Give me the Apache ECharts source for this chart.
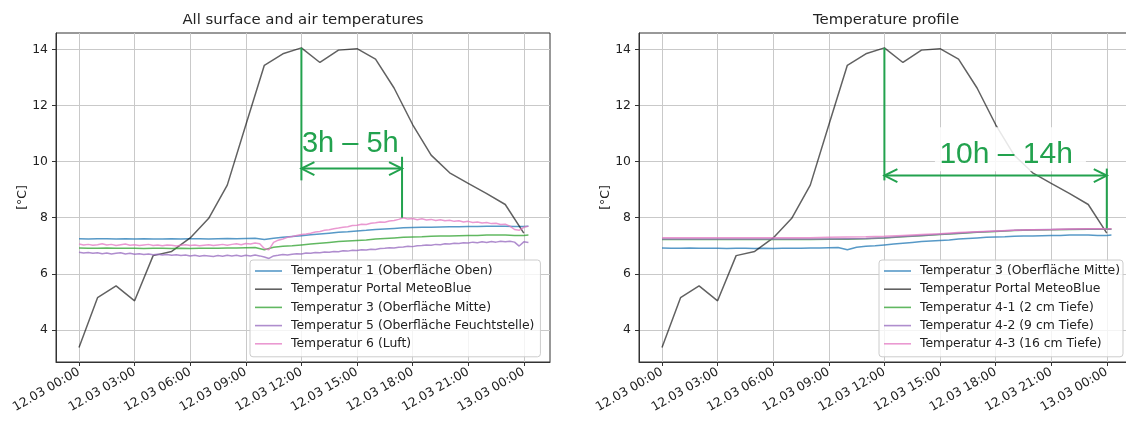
<!DOCTYPE html>
<html>
<head>
<meta charset="utf-8">
<script src="https://cdn.jsdelivr.net/npm/echarts@6/dist/echarts.min.js"></script>
<style>
  html, body { margin: 0; padding: 0; background: #ffffff; }
  #chart { width: 1126px; height: 421px; }
</style>
</head>
<body>
<div id="chart"></div>
<script>
// ---- sampling grids, hours after 12.03 00:00 ----
const quarterHours = Array.from({ length: 98 }, (_, i) => i * 0.25);          // 0 … 24.25
const halfHours = Array.from({ length: 49 }, (_, i) => i * 0.5).concat([24.25]);
const fullHours = Array.from({ length: 25 }, (_, i) => i).concat([24.25]);
const meteoHours = Array.from({ length: 25 }, (_, i) => i);                   // hourly model values

// ---- axis ticks ----
const tickHours = [0, 3, 6, 9, 12, 15, 18, 21, 24];
const tickLabels = ['12.03 00:00', '12.03 03:00', '12.03 06:00', '12.03 09:00', '12.03 12:00',
                    '12.03 15:00', '12.03 18:00', '12.03 21:00', '13.03 00:00'];
const yTicks = [4, 6, 8, 10, 12, 14];

// ---- measured temperatures [°C] ----
const meteoBlue = [3.38, 5.15, 5.57, 5.04, 6.65, 6.80, 7.28, 7.98, 9.16, 11.30, 13.43, 13.84, 14.05,
                   13.53, 13.97, 14.02, 13.65, 12.62, 11.32, 10.23, 9.60, 9.22, 8.86, 8.47, 7.45];

// Temperatur 1 (Oberfläche Oben), half-hourly
const temp1 = [7.25, 7.24, 7.25, 7.25, 7.24, 7.25, 7.24, 7.25, 7.24, 7.24,
               7.25, 7.24, 7.25, 7.25, 7.24, 7.25, 7.26, 7.25, 7.26, 7.27,
               7.22, 7.27, 7.30, 7.33, 7.36, 7.39, 7.42, 7.45, 7.48, 7.50,
               7.53, 7.55, 7.58, 7.60, 7.62, 7.64, 7.65, 7.66, 7.66, 7.67,
               7.68, 7.68, 7.69, 7.69, 7.70, 7.70, 7.70, 7.69, 7.69, 7.70];

// Temperatur 3 (Oberfläche Mitte), half-hourly
const temp3 = [6.92, 6.91, 6.91, 6.92, 6.91, 6.91, 6.91, 6.90, 6.91, 6.91,
               6.90, 6.91, 6.90, 6.91, 6.91, 6.91, 6.92, 6.92, 6.93, 6.94,
               6.86, 6.95, 6.98, 7.00, 7.03, 7.06, 7.09, 7.12, 7.15, 7.17,
               7.19, 7.21, 7.24, 7.26, 7.28, 7.30, 7.31, 7.32, 7.34, 7.35,
               7.35, 7.36, 7.37, 7.37, 7.38, 7.38, 7.38, 7.37, 7.37, 7.38];

// Temperatur 5 (Oberfläche Feuchtstelle), quarter-hourly
const temp5 = [6.77, 6.74, 6.76, 6.73, 6.75, 6.72, 6.74, 6.71, 6.73, 6.75,
               6.71, 6.73, 6.70, 6.72, 6.69, 6.71, 6.68, 6.70, 6.67, 6.69,
               6.66, 6.68, 6.65, 6.67, 6.64, 6.66, 6.63, 6.65, 6.64, 6.62,
               6.65, 6.63, 6.66, 6.64, 6.66, 6.63, 6.66, 6.64, 6.67, 6.64,
               6.60, 6.55, 6.64, 6.66, 6.69, 6.67, 6.70, 6.72, 6.71, 6.74,
               6.73, 6.76, 6.75, 6.78, 6.77, 6.80, 6.79, 6.82, 6.81, 6.84,
               6.83, 6.86, 6.85, 6.88, 6.87, 6.90, 6.91, 6.93, 6.92, 6.95,
               6.96, 6.98, 6.97, 7.00, 7.01, 7.03, 7.02, 7.05, 7.04, 7.07,
               7.06, 7.09, 7.08, 7.11, 7.10, 7.13, 7.11, 7.14, 7.12, 7.15,
               7.13, 7.16, 7.14, 7.16, 7.13, 6.99, 7.14, 7.12];

// Temperatur 6 (Luft), quarter-hourly
const temp6 = [7.06, 7.03, 7.05, 7.02, 7.04, 7.07, 7.03, 7.05, 7.01, 7.04,
               7.06, 7.02, 7.04, 7.01, 7.03, 7.05, 7.01, 7.03, 7.00, 7.03,
               7.02, 6.99, 7.02, 7.04, 7.01, 7.03, 7.00, 7.02, 7.04, 7.01,
               7.03, 7.05, 7.02, 7.05, 7.07, 7.04, 7.08, 7.06, 7.10, 7.07,
               6.90, 6.86, 7.12, 7.20, 7.24, 7.30, 7.33, 7.37, 7.40, 7.42,
               7.45, 7.49, 7.51, 7.55, 7.57, 7.61, 7.63, 7.66, 7.68, 7.72,
               7.73, 7.77, 7.76, 7.80, 7.82, 7.85, 7.84, 7.88, 7.90, 7.94,
               8.00, 7.95, 7.97, 7.93, 7.96, 7.92, 7.94, 7.90, 7.93, 7.89,
               7.91, 7.87, 7.89, 7.85, 7.87, 7.83, 7.85, 7.81, 7.83, 7.79,
               7.80, 7.76, 7.77, 7.70, 7.58, 7.55, 7.66, 7.70];

// Soil depth sensors, hourly
const temp41 = [7.22, 7.22, 7.22, 7.22, 7.22, 7.22, 7.22, 7.22, 7.22, 7.23, 7.23, 7.25, 7.28,
                7.32, 7.36, 7.40, 7.44, 7.48, 7.51, 7.54, 7.56, 7.57, 7.58, 7.59, 7.59, 7.59];
const temp42 = [7.24, 7.24, 7.24, 7.24, 7.24, 7.24, 7.24, 7.24, 7.24, 7.24, 7.25, 7.26, 7.29,
                7.33, 7.37, 7.41, 7.45, 7.49, 7.52, 7.55, 7.57, 7.58, 7.59, 7.60, 7.60, 7.60];
const temp43 = [7.29, 7.29, 7.29, 7.29, 7.29, 7.29, 7.29, 7.29, 7.29, 7.30, 7.31, 7.32, 7.34,
                7.37, 7.40, 7.43, 7.47, 7.50, 7.53, 7.55, 7.57, 7.58, 7.60, 7.61, 7.61, 7.61];

// ---- legend labels ----
const leftLabels = ['Temperatur 1 (Oberfläche Oben)', 'Temperatur Portal MeteoBlue',
                    'Temperatur 3 (Oberfläche Mitte)', 'Temperatur 5 (Oberfläche Feuchtstelle)',
                    'Temperatur 6 (Luft)'];
const rightLabels = ['Temperatur 3 (Oberfläche Mitte)', 'Temperatur Portal MeteoBlue',
                     'Temperatur 4-1 (2 cm Tiefe)', 'Temperatur 4-2 (9 cm Tiefe)',
                     'Temperatur 4-3 (16 cm Tiefe)'];

// ---- span annotations (data coordinates) ----
const leftSpan = { from: 12, to: 17.43, arrowAt: 9.75, fromTop: 14.05, fromBottom: 9.33,
                   toTop: 10.17, toBottom: 8.0, text: '3h – 5h', textAt: [12.03, 10.63], box: false, size: 29 };
const rightSpan = { from: 12, to: 24, arrowAt: 9.50, fromTop: 14.05, fromBottom: 9.33,
                    toTop: 9.75, toBottom: 7.62, text: '10h – 14h', textAt: [14.97, 10.24], box: true, size: 30 };

// ---- styling ----
const FONT = "'DejaVu Sans', sans-serif";
const INK = '#222222';
const SPINE = '#333333';
const GRID = '#c9c9c9';
const ANN_GREEN = '#22a24e';
const C = { blue: '#1f77b4', grey: '#000000', green: '#2ca02c', purple: '#9467bd', pink: '#e377c2' };

const X_MIN = -1.241, X_MAX = 25.414, Y_MIN = 2.86, Y_MAX = 14.58;

function grid(left) {
  return { left: left, top: 33, width: 494, height: 329, show: true, borderColor: SPINE,
           borderWidth: 1, backgroundColor: 'transparent', containLabel: false, outerBoundsMode: 'none' };
}

function xAxis(idx) {
  return {
    type: 'value', gridIndex: idx, min: X_MIN, max: X_MAX,
    axisLine: { show: true, onZero: false, lineStyle: { color: SPINE, width: 1 } },
    axisTick: { show: true, inside: false, length: 4, customValues: tickHours, lineStyle: { color: SPINE } },
    axisLabel: { customValues: tickHours, rotate: 30, margin: 9, color: INK, fontFamily: FONT, fontSize: 12.4,
                 formatter: v => { const i = tickHours.indexOf(v); return i < 0 ? '' : tickLabels[i]; } },
    splitLine: { show: true, lineStyle: { color: GRID, width: 1 } }
  };
}

function yAxis(idx) {
  return {
    type: 'value', gridIndex: idx, min: Y_MIN, max: Y_MAX,
    name: '[°C]', nameLocation: 'middle', nameGap: 26, nameRotate: 90,
    nameTextStyle: { color: INK, fontFamily: FONT, fontSize: 12.4 },
    axisLine: { show: true, onZero: false, lineStyle: { color: SPINE, width: 1 } },
    axisTick: { show: true, inside: false, length: 4, customValues: yTicks, lineStyle: { color: SPINE } },
    axisLabel: { customValues: yTicks, margin: 8, color: INK, fontFamily: FONT, fontSize: 12.4 },
    splitLine: { show: true, lineStyle: { color: GRID, width: 1 } }
  };
}

function line(key, idx, hours, values, color, opacity) {
  return {
    type: 'line', name: key, xAxisIndex: idx, yAxisIndex: idx, silent: true,
    data: hours.map((h, i) => [h, values[i]]),
    symbol: 'none', smooth: false,
    lineStyle: { color: color, width: 1.5, opacity: opacity },
    itemStyle: { color: color, opacity: opacity }
  };
}

function legend(left, keys, labels, padRight) {
  return {
    orient: 'vertical', left: left, top: 260, selectedMode: false,
    data: keys, icon: 'rect',
    itemWidth: 27, itemHeight: 1.6, itemGap: 4.2,
    padding: [4, padRight, 6, 5],
    backgroundColor: 'rgba(255,255,255,0.8)', borderColor: '#cccccc', borderWidth: 1, borderRadius: 3,
    textStyle: { color: INK, fontFamily: FONT, fontSize: 12.4, lineHeight: 14, padding: [0, 0, 0, 4] },
    formatter: name => labels[keys.indexOf(name)]
  };
}

function spanMarker(span, idx) {
  return {
    type: 'custom', xAxisIndex: idx, yAxisIndex: idx, silent: true, clip: false, z: 5,
    data: [[span.from, span.arrowAt]],
    renderItem: (params, api) => {
      const fx = api.coord([span.from, span.fromTop])[0];
      const fTop = api.coord([span.from, span.fromTop])[1];
      const fBot = api.coord([span.from, span.fromBottom])[1];
      const tx = api.coord([span.to, span.toTop])[0];
      const tTop = api.coord([span.to, span.toTop])[1];
      const tBot = api.coord([span.to, span.toBottom])[1];
      const ay = api.coord([span.from, span.arrowAt])[1];
      const lp = api.coord(span.textAt);
      const st = { stroke: ANN_GREEN, lineWidth: 2, fill: null };
      const kids = [];
      if (span.box) {
        kids.push({ type: 'rect', shape: { x: lp[0] - 4.5, y: lp[1] - 27.5, width: 151, height: 44 },
                    style: { fill: 'rgba(255,255,255,0.85)' } });
      }
      kids.push(
        { type: 'line', shape: { x1: fx, y1: fTop, x2: fx, y2: fBot }, style: st },
        { type: 'line', shape: { x1: tx, y1: tTop, x2: tx, y2: tBot }, style: st },
        { type: 'line', shape: { x1: fx, y1: ay, x2: tx, y2: ay }, style: st },
        { type: 'polyline', shape: { points: [[fx + 13, ay - 6.5], [fx, ay], [fx + 13, ay + 6.5]] }, style: st },
        { type: 'polyline', shape: { points: [[tx - 13, ay - 6.5], [tx, ay], [tx - 13, ay + 6.5]] }, style: st },
        { type: 'text', x: lp[0], y: lp[1],
          style: { text: span.text, fill: ANN_GREEN, font: span.size + 'px "Liberation Sans", Arial, sans-serif',
                   align: 'left', verticalAlign: 'middle' } }
      );
      return { type: 'group', children: kids };
    }
  };
}

const leftKeys = leftLabels.map((l, i) => 'L' + i);
const rightKeys = rightLabels.map((l, i) => 'R' + i);
const A = 0.75;

const option = {
  animation: false,
  backgroundColor: '#ffffff',
  textStyle: { fontFamily: FONT },
  title: [
    { text: 'All surface and air temperatures', left: 303, top: 13, textAlign: 'center', padding: 0,
      textStyle: { color: INK, fontFamily: FONT, fontSize: 14.9, fontWeight: 'normal' } },
    { text: 'Temperature profile', left: 886, top: 13, textAlign: 'center', padding: 0,
      textStyle: { color: INK, fontFamily: FONT, fontSize: 14.9, fontWeight: 'normal' } }
  ],
  grid: [grid(56), grid(639)],
  xAxis: [xAxis(0), xAxis(1)],
  yAxis: [yAxis(0), yAxis(1)],
  legend: [legend(250, leftKeys, leftLabels, 6), legend(879, rightKeys, rightLabels, 3)],
  series: [
    line(leftKeys[0], 0, halfHours, temp1, C.blue, A),
    line(leftKeys[1], 0, meteoHours, meteoBlue, C.grey, 0.62),
    line(leftKeys[2], 0, halfHours, temp3, C.green, A),
    line(leftKeys[3], 0, quarterHours, temp5, C.purple, A),
    line(leftKeys[4], 0, quarterHours, temp6, C.pink, A),
    spanMarker(leftSpan, 0),

    line(rightKeys[0], 1, halfHours, temp3, C.blue, A),
    line(rightKeys[1], 1, meteoHours, meteoBlue, C.grey, 0.62),
    line(rightKeys[2], 1, fullHours, temp41, C.green, A),
    line(rightKeys[3], 1, fullHours, temp42, C.purple, A),
    line(rightKeys[4], 1, fullHours, temp43, C.pink, A),
    spanMarker(rightSpan, 1)
  ]
};

const chart = echarts.init(document.getElementById('chart'), null, { renderer: 'canvas' });
chart.setOption(option);
</script>
</body>
</html>
